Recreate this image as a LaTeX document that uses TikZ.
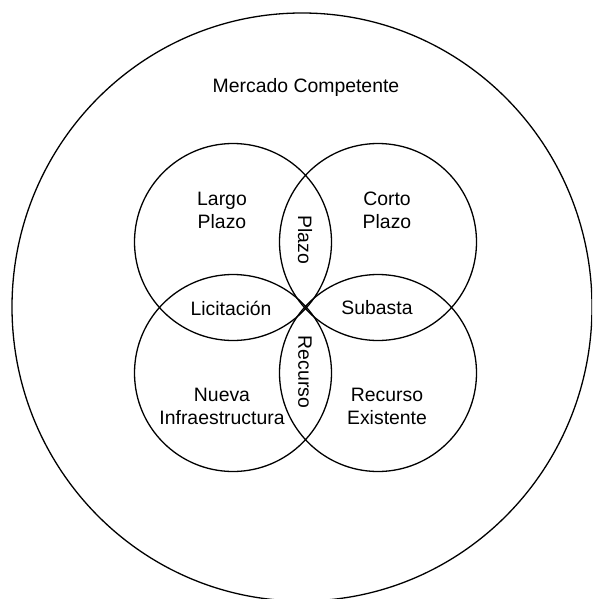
\documentclass[tikz,border=0pt]{standalone}
\usepackage{fontspec}
\setmainfont{Liberation Sans}
\begin{document}
\begin{tikzpicture}[x=1pt,y=-1pt,
  ring/.style={circle,draw=black,line width=1.3pt,minimum size=197pt,inner sep=0pt},
  lbl/.style={align=center,font=\fontsize{19.4}{23}\selectfont,inner sep=0pt},
  vlbl/.style={lbl,rotate=-90}]
\useasboundingbox (0,0) rectangle (592,599);
\clip (0,0) rectangle (592,599);
\draw[line width=1.3pt] (302,307) ellipse [x radius=290, y radius=294];
\node[ring] (tl) at (233,242) {};
\node[ring] (tr) at (378,242) {};
\node[ring] (bl) at (233,373) {};
\node[ring] (br) at (378,373) {};
\node[lbl] (mc) at (306,87) {Mercado Competente};
\node[lbl] (lp) at (222,210) {Largo\\Plazo};
\node[lbl] (cp) at (387,210) {Corto\\Plazo};
\node[vlbl] (pz) at (305,240) {Plazo};
\node[lbl] (lic) at (231,308) {Licitación};
\node[lbl] (sub) at (377,308) {Subasta};
\node[vlbl] (rc) at (305,372) {Recurso};
\node[lbl] (ni) at (222,406) {Nueva\\Infraestructura};
\node[lbl] (re) at (387,406) {Recurso\\Existente};
\end{tikzpicture}
\end{document}
